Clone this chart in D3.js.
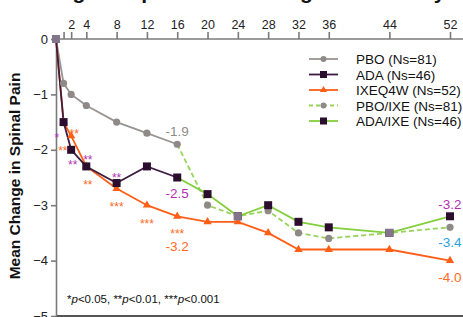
<!DOCTYPE html>
<head>
	<meta charset="utf-8">
	<title>Spinal Pain Chart</title>
	<script src="https://d3js.org/d3.v7.min.js"></script>
	<style>
	body { margin:0; background:#fff; }
	svg { font-family: "Liberation Sans", Arial, sans-serif; }
	.line { fill:none; stroke-width:1.8px; }
	.axis path, .axis line { stroke:#7a7a7a; stroke-width:1.6px; }
	.axis text { font-size:12.5px; fill:#222; }
	</style>
</head>
<body>
<div class="chartContainer"></div>
<script>
	//weeks for each visit
	var weeksA=[0,1,2,4,8,12,16];
	var weeksB=[16,20,24,28,32,36,44,52];
	var weeksAll=[0,1,2,4,8,12,16,20,24,28,32,36,44,52];
	var xTicks=[1,2,4,8,12,16,20,24,28,32,36,44,52];
	var xTickLabels=["","2","4","8","12","16","20","24","28","32","36","44","52"];
	var yTicks=[0,-1,-2,-3,-4,-5];

	//series values
	var pbo=[0,-0.8,-1.0,-1.2,-1.5,-1.7,-1.9];
	var ada=[0,-1.5,-2.0,-2.3,-2.6,-2.3,-2.5];
	var ixe=[0,-1.5,-1.75,-2.3,-2.7,-3.0,-3.2,-3.3,-3.3,-3.5,-3.8,-3.8,-3.8,-4.0];
	var pboIxe=[-1.9,-3.0,-3.2,-3.1,-3.5,-3.6,-3.5,-3.4];
	var adaIxe=[-2.5,-2.8,-3.2,-3.0,-3.3,-3.4,-3.5,-3.2];

	var legendLabels=["PBO (Ns=81)","ADA (Ns=46)","IXEQ4W (Ns=52)","PBO/IXE (Ns=81)","ADA/IXE (Ns=46)"];

	//significance markers and value labels: [week, value, text, color]
	var notes=[
		[0.1,-1.86,"*","#b52fb5"],
		[2.4,-1.79,"**","#ff6a22"],
		[0.9,-2.09,"**","#ff6a22"],
		[2.2,-2.35,"**","#b52fb5"],
		[4.2,-2.26,"**","#b52fb5"],
		[4.2,-2.71,"**","#ff6a22"],
		[8,-2.58,"**","#b52fb5"],
		[8,-3.1,"***","#ff6a22"],
		[12,-3.41,"***","#ff6a22"],
		[16,-3.59,"***","#ff6a22"]
	];
	var valueLabels=[
		[16,-1.75,"-1.9","#8f8a87"],
		[16,-2.87,"-2.5","#b52fb5"],
		[16,-3.83,"-3.2","#ff6a22"],
		[52,-3.07,"-3.2","#b52fb5"],
		[52,-3.75,"-3.4","#2aa1e0"],
		[52,-4.39,"-4.0","#ff6a22"]
	];

	var colors={pbo:"#9a9592",ada:"#3e1b40",ixe:"#ff5e17",green:"#83cf3c",greenDash:"#96d45a",square:"#2b0d2e",circle:"#8f8a87"};

	var width=463, height=317;
	var svg=d3.select(".chartContainer").append("svg")
		.attr("width",width).attr("height",height);

	var x=d3.scaleLinear().domain([0,52]).range([56,450]);
	var y=d3.scaleLinear().domain([0,-5]).range([39,316]);

	//title, cut off at the top edge
	svg.append("text")
		.attr("x",235).attr("y",-1)
		.attr("text-anchor","middle")
		.style("font-size","21px").style("font-weight","bold").attr("fill","#111")
		.text("Mean Change in Spinal Pain through Week 52 by Study");

	//bottom frame at -5
	svg.append("line")
		.attr("x1",x(0)).attr("x2",width)
		.attr("y1",y(-5)).attr("y2",y(-5))
		.attr("stroke","#555").attr("stroke-width",2);

	var xAxis=d3.axisTop(x).tickValues(xTicks).tickSize(7).tickSizeOuter(0)
		.tickFormat(function(d,i){ return xTickLabels[i]; });
	svg.append("g").attr("class","axis")
		.attr("transform","translate(0,"+y(0)+")")
		.call(xAxis)
		.call(function(g){ g.select(".domain").attr("d","M"+x(0)+",0H"+width); });

	var yAxis=d3.axisLeft(y).tickValues(yTicks).tickSize(5).tickSizeOuter(0)
		.tickFormat(function(d){ return d===0?"0":d3.format("d")(d); });
	svg.append("g").attr("class","axis")
		.attr("transform","translate("+x(0)+",0)")
		.call(yAxis)
		.call(function(g){ g.selectAll("text").attr("x",-8).style("font-size","13px"); });

	svg.append("text")
		.attr("transform","translate(20,"+176+") rotate(-90)")
		.attr("text-anchor","middle")
		.style("font-size","15.5px").style("font-weight","bold").attr("fill","#111")
		.text("Mean Change in Spinal Pain");

	var line=d3.line()
		.x(function(d){ return x(d[0]); })
		.y(function(d){ return y(d[1]); });

	var zip=function(ws,vs){ return ws.map(function(w,i){ return [w,vs[i]]; }); };

	var pboData=zip(weeksA,pbo);
	var adaData=zip(weeksA,ada);
	var ixeData=zip(weeksAll,ixe);
	var pboIxeData=zip(weeksB,pboIxe);
	var adaIxeData=zip(weeksB,adaIxe);

	svg.append("path").attr("class","line").attr("stroke",colors.greenDash)
		.attr("stroke-dasharray","5,3").attr("d",line(pboIxeData));
	svg.append("path").attr("class","line").attr("stroke",colors.green).attr("d",line(adaIxeData));
	svg.append("path").attr("class","line").attr("stroke",colors.pbo).attr("d",line(pboData));
	svg.append("path").attr("class","line").attr("stroke",colors.ixe).attr("d",line(ixeData));
	svg.append("path").attr("class","line").attr("stroke",colors.ada).attr("d",line(adaData));

	var circles=function(data,fill){
		svg.append("g").selectAll("circle").data(data).enter().append("circle")
			.attr("cx",function(d){ return x(d[0]); })
			.attr("cy",function(d){ return y(d[1]); })
			.attr("r",3.6).attr("fill",fill);
	};
	var squares=function(data,fill){
		svg.append("g").selectAll("rect").data(data).enter().append("rect")
			.attr("x",function(d){ return x(d[0])-4; })
			.attr("y",function(d){ return y(d[1])-4; })
			.attr("width",8).attr("height",8).attr("fill",fill);
	};
	var triangles=function(data,fill){
		svg.append("g").selectAll("path").data(data).enter().append("path")
			.attr("transform",function(d){ return "translate("+x(d[0])+","+y(d[1])+")"; })
			.attr("d",d3.symbol(d3.symbolTriangle,30)).attr("fill",fill);
	};

	circles(pboIxeData.slice(1),colors.circle);
	squares(adaIxeData.slice(1),colors.square);
	circles(pboData,colors.circle);
	triangles(ixeData.slice(1),colors.ixe);
	squares(adaData.slice(1),colors.square);
	//shared points where series overlap
	squares([[0,0],[24,-3.2],[44,-3.5]],"#84768a");

	svg.append("g").selectAll("text").data(notes).enter().append("text")
		.attr("x",function(d){ return x(d[0]); })
		.attr("y",function(d){ return y(d[1]); })
		.attr("text-anchor","middle")
		.style("font-size","12px").attr("fill",function(d){ return d[3]; })
		.text(function(d){ return d[2]; });

	svg.append("g").selectAll("text").data(valueLabels).enter().append("text")
		.attr("x",function(d){ return x(d[0]); })
		.attr("y",function(d){ return y(d[1]); })
		.attr("text-anchor","middle")
		.style("font-size","13.5px").attr("fill",function(d){ return d[3]; })
		.text(function(d){ return d[2]; });

	//legend
	var legend=svg.append("g").attr("transform","translate(309,59)");
	legendLabels.forEach(function(lbl,i){
		var g=legend.append("g").attr("transform","translate(0,"+(i*15.5)+")");
		var stroke=[colors.pbo,colors.ada,colors.ixe,colors.greenDash,colors.green][i];
		g.append("line").attr("x1",0).attr("x2",29).attr("y1",0).attr("y2",0)
			.attr("stroke",stroke).attr("stroke-width",1.8)
			.attr("stroke-dasharray",i===3?"4,3":null);
		if (i===0||i===3) g.append("circle").attr("cx",14.5).attr("r",3).attr("fill",colors.circle);
		if (i===1||i===4) g.append("rect").attr("x",11).attr("y",-3.5).attr("width",7).attr("height",7).attr("fill",colors.square);
		if (i===2) g.append("path").attr("transform","translate(14.5,0)").attr("d",d3.symbol(d3.symbolTriangle,22)).attr("fill",colors.ixe);
		g.append("text").attr("x",47).attr("y",5).style("font-size","13.5px").attr("fill","#111").text(lbl);
	});

	//footnote
	var foot=svg.append("text").attr("x",67).attr("y",303).style("font-size","11.5px").attr("fill","#111");
	[["*",""],["p","i"],["<0.05, **",""],["p","i"],["<0.01, ***",""],["p","i"],["<0.001",""]].forEach(function(p){
		foot.append("tspan").style("font-style",p[1]==="i"?"italic":"normal").text(p[0]);
	});
</script>
</body>
</html>
